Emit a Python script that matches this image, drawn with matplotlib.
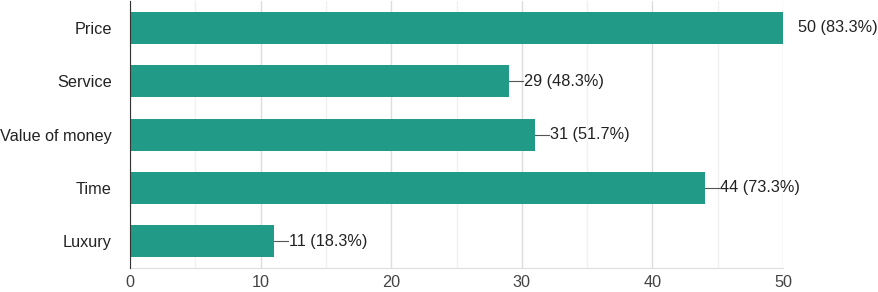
import matplotlib.pyplot as plt
from matplotlib.ticker import MultipleLocator

plt.rcParams["font.family"] = ["Liberation Sans", "DejaVu Sans"]

categories = ["Price", "Service", "Value of money", "Time", "Luxury"]
counts = [50, 29, 31, 44, 11]
percents = [83.3, 48.3, 51.7, 73.3, 18.3]
bar_color = "#229a88"

fig = plt.figure(figsize=(8.79, 2.92), dpi=100)
ax = fig.add_axes([0.1479, 0.0822, 0.7429, 0.9135])

ypos = range(len(categories))
ax.barh(ypos, counts, height=0.6, color=bar_color, zorder=3)

for y, c, p in zip(ypos, counts, percents):
    ax.plot([c, c + 1.1], [y, y], color="#555555", lw=0.8, zorder=2, clip_on=True)
    ax.text(c + 1.15, y, f"{c} ({p}%)", va="center", ha="left", fontsize=11.7,
            color="#222222", clip_on=False)

ax.set_xlim(0, 50)
ax.set_ylim(4.5, -0.5)
ax.set_yticks(list(ypos))
ax.set_yticklabels(categories, fontsize=11.7, color="#222222")
ax.xaxis.set_major_locator(MultipleLocator(10))
ax.xaxis.set_minor_locator(MultipleLocator(5))
ax.tick_params(axis="x", labelsize=11.7, labelcolor="#444444", length=0, pad=5)
ax.tick_params(axis="y", length=0, pad=13)
ax.tick_params(which="minor", length=0)

ax.grid(axis="x", which="major", color="#dddddd", lw=1, zorder=0)
ax.grid(axis="x", which="minor", color="#f0f0f0", lw=1, zorder=0)
for s in ["top", "right"]:
    ax.spines[s].set_visible(False)
ax.spines["bottom"].set_color("#dddddd")
ax.spines["left"].set_color("#333333")
ax.spines["left"].set_zorder(4)

fig.savefig("out.png", dpi=100)
